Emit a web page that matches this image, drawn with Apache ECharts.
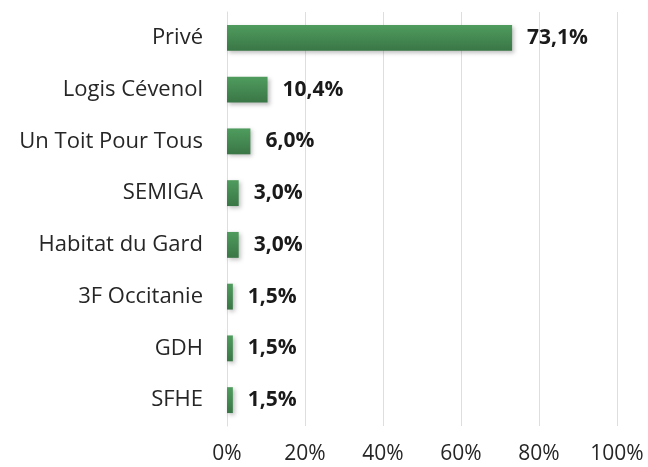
<!DOCTYPE html>
<html>
<head>
<meta charset="utf-8">
<script src="https://cdn.jsdelivr.net/npm/echarts@6/dist/echarts.min.js"></script>
<style>html,body{margin:0;padding:0;background:#fff}#c{width:648px;height:467px}</style>
</head>
<body>
<div id="c"></div>
<script>
const categories = ["Privé", "Logis Cévenol", "Un Toit Pour Tous", "SEMIGA", "Habitat du Gard", "3F Occitanie", "GDH", "SFHE"];
const values = [73.1, 10.4, 6.0, 3.0, 3.0, 1.5, 1.5, 1.5];
const tickLabels = ["0%", "20%", "40%", "60%", "80%", "100%"];

const chart = echarts.init(document.getElementById('c'), null, {renderer: 'canvas'});
const font = "'Open Sans', 'Liberation Sans', sans-serif";
chart.setOption({
  animation: false,
  grid: {left: 227, right: 31, top: 12, bottom: 41},
  xAxis: {
    type: 'value', min: 0, max: 100, interval: 20,
    axisLine: {show: false}, axisTick: {show: false},
    splitLine: {lineStyle: {color: '#d3e0f1', width: 1}},
    axisLabel: {
      fontFamily: font, fontSize: 21, color: '#262626', margin: 18,
      formatter: function (v) { return tickLabels[Math.round(v / 20)]; }
    }
  },
  yAxis: {
    type: 'category', data: categories, inverse: true,
    axisLine: {show: true, lineStyle: {color: '#d3e0f1'}},
    axisTick: {show: false},
    axisLabel: {fontFamily: font, fontSize: 22, color: '#262626', margin: 24}
  },
  series: [{
    type: 'bar', data: values, barCategoryGap: '50%',
    itemStyle: {
      color: new echarts.graphic.LinearGradient(0, 0, 0, 1, [
        {offset: 0, color: '#4f9c5e'}, {offset: 1, color: '#3a7646'}
      ]),
      shadowColor: 'rgba(0,0,0,0.25)', shadowBlur: 4, shadowOffsetX: 2, shadowOffsetY: 2
    },
    label: {
      show: true, position: 'right', distance: 15,
      fontFamily: font, fontSize: 21, fontWeight: 'bold', color: '#1a1a1a',
      formatter: function (p) { return p.value.toFixed(1).replace('.', ',') + '%'; }
    }
  }]
});
</script>
</body>
</html>
